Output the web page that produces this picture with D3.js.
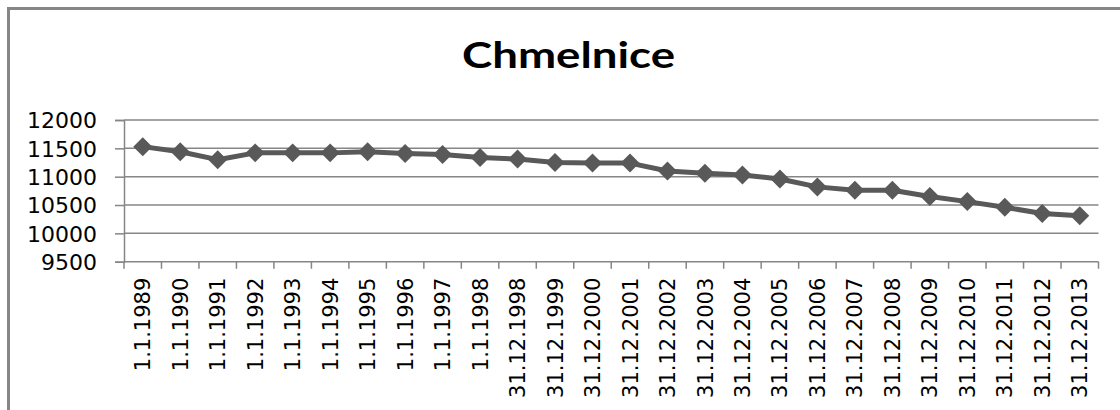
<!DOCTYPE html>
<html>
<head>
<meta charset="utf-8">
<script src="https://cdn.jsdelivr.net/npm/d3@7"></script>
<style>
  html, body { margin: 0; padding: 0; background: #fff; }
  svg { display: block; }
</style>
</head>
<body>
<svg id="chart" width="1120" height="410"></svg>
<script>
const title = "Chmelnice";
const categories = [
  "1.1.1989","1.1.1990","1.1.1991","1.1.1992","1.1.1993","1.1.1994","1.1.1995",
  "1.1.1996","1.1.1997","1.1.1998","31.12.1998","31.12.1999","31.12.2000",
  "31.12.2001","31.12.2002","31.12.2003","31.12.2004","31.12.2005","31.12.2006",
  "31.12.2007","31.12.2008","31.12.2009","31.12.2010","31.12.2011","31.12.2012",
  "31.12.2013"
];
const values = [
  11530, 11440, 11300, 11420, 11420, 11420, 11440,
  11410, 11390, 11340, 11310, 11250, 11240,
  11240, 11100, 11060, 11030, 10960, 10820,
  10760, 10760, 10650, 10560, 10460, 10350,
  10310
];
const yTicks = [9500, 10000, 10500, 11000, 11500, 12000];

(function () {
const svg = d3.select("#chart");
const W = 1120, H = 410;
const pLeft = 124, pRight = 1098.5, pTop = 120, pBottom = 261.7;

// outer chart border (extends beyond bottom/right edge)
svg.append("rect")
  .attr("x", 8.5).attr("y", 8.5)
  .attr("width", W + 20).attr("height", H + 20)
  .attr("fill", "none").attr("stroke", "#868686").attr("stroke-width", 3);

svg.append("text")
  .attr("x", 568.5).attr("y", 68)
  .attr("text-anchor", "middle")
  .attr("font-family", "Lato, 'Open Sans', sans-serif")
  .attr("font-weight", "bold")
  .attr("font-size", 37)
  .attr("textLength", 213)
  .attr("lengthAdjust", "spacingAndGlyphs")
  .attr("fill", "#000")
  .text(title);

const x = d3.scaleBand().domain(categories).range([pLeft, pRight]).padding(0);
const y = d3.scaleLinear().domain([9500, 12000]).range([pBottom, pTop]);

// gridlines
svg.append("g")
  .selectAll("line").data(yTicks.filter(t => t !== 9500)).join("line")
  .attr("x1", pLeft).attr("x2", pRight)
  .attr("y1", d => y(d)).attr("y2", d => y(d))
  .attr("stroke", "#868686").attr("stroke-width", 1.5);

// y axis
const yAxis = d3.axisLeft(y).tickValues(yTicks).tickSize(9).tickPadding(18).tickFormat(d3.format("d"));
const gy = svg.append("g").attr("transform", `translate(${pLeft},0)`).call(yAxis);
gy.select(".domain").attr("stroke", "#868686").attr("stroke-width", 1.5);
gy.selectAll(".tick line").attr("stroke", "#868686").attr("stroke-width", 1.5);
gy.selectAll(".tick text")
  .attr("font-family", "'DejaVu Sans', Verdana, sans-serif")
  .attr("font-size", 22).attr("fill", "#000").attr("dy", "0.36em");

// x axis line
svg.append("line")
  .attr("x1", pLeft).attr("x2", pRight)
  .attr("y1", pBottom).attr("y2", pBottom)
  .attr("stroke", "#868686").attr("stroke-width", 1.5);

// x ticks at category boundaries
const boundaries = categories.map(c => x(c)).concat([pRight]);
svg.append("g").selectAll("line").data(boundaries).join("line")
  .attr("x1", d => d).attr("x2", d => d)
  .attr("y1", pBottom).attr("y2", pBottom + 7)
  .attr("stroke", "#868686").attr("stroke-width", 1.5);

// x labels rotated
svg.append("g").selectAll("text").data(categories).join("text")
  .attr("transform", d => `translate(${x(d) + x.bandwidth() / 2},${pBottom + 16}) rotate(-90)`)
  .attr("text-anchor", "end")
  .attr("dy", "0.36em")
  .attr("font-family", "'DejaVu Sans', Verdana, sans-serif")
  .attr("font-size", 21).attr("fill", "#000")
  .text(d => d);

// line
const line = d3.line()
  .x((d, i) => x(categories[i]) + x.bandwidth() / 2)
  .y(d => y(d));
svg.append("path")
  .datum(values)
  .attr("d", line)
  .attr("fill", "none").attr("stroke", "#595959").attr("stroke-width", 5)
  .attr("stroke-linejoin", "round");

// diamond markers
const diamond = d3.symbol().type(d3.symbolDiamond2).size(230);
svg.append("g").selectAll("path").data(values).join("path")
  .attr("transform", (d, i) => `translate(${x(categories[i]) + x.bandwidth() / 2},${y(d)})`)
  .attr("d", diamond)
  .attr("fill", "#595959");
})();
</script>
</body>
</html>
